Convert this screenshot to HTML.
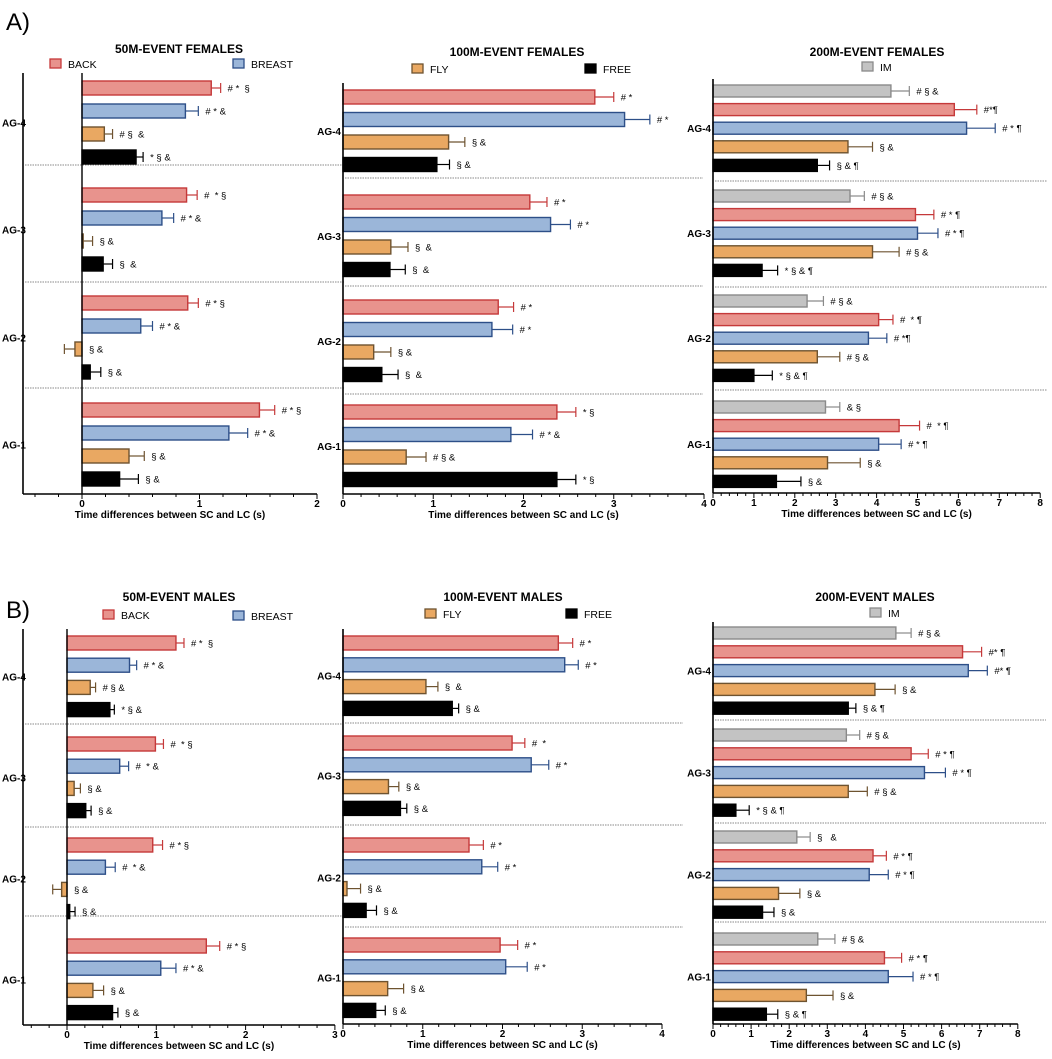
<!DOCTYPE html>
<html><head><meta charset="utf-8">
<style>
body{margin:0;background:#fff;}
svg{display:block;font-family:"Liberation Sans",Arial,sans-serif;}
</style></head>
<body>
<svg id="chart" width="1052" height="1059" viewBox="0 0 1052 1059" xmlns="http://www.w3.org/2000/svg">
<text x="6" y="30" font-size="24">A)</text>
<text x="6" y="618" font-size="24">B)</text>
</svg>
<script>
// ---- data (groups ordered AG-4, AG-3, AG-2, AG-1; series BACK, BREAST, FLY, FREE [, IM first for 200m]) ----
const groups = ["AG-4","AG-3","AG-2","AG-1"];
const a1Values = [[1.10,0.88,0.19,0.46],[0.89,0.68,0.01,0.18],[0.90,0.50,-0.06,0.07],[1.51,1.25,0.40,0.32]];
const a1Errors = [[1.18,0.99,0.26,0.52],[0.98,0.78,0.09,0.26],[0.99,0.60,-0.15,0.16],[1.64,1.41,0.53,0.48]];
const a1Notes = [["# *  §","# * &","# §  &","* § &"],["#  * §","# * &","§ &","§  &"],["# * §","# * &","§ &","§ &"],["# * §","# * &","§ &","§ &"]];
const a2Values = [[2.79,3.12,1.17,1.04],[2.07,2.30,0.53,0.52],[1.72,1.65,0.34,0.43],[2.37,1.86,0.70,2.37]];
const a2Errors = [[3.00,3.40,1.35,1.18],[2.26,2.52,0.72,0.69],[1.89,1.88,0.53,0.61],[2.58,2.10,0.92,2.58]];
const a2Notes = [["# *","# *","§ &","§ &"],["# *","# *","§  &","§  &"],["# *","# *","§ &","§  &"],["* §","# * &","# § &","* §"]];
const a3Values = [[4.35,5.90,6.20,3.30,2.55],[3.35,4.95,5.00,3.90,1.20],[2.30,4.05,3.80,2.55,1.00],[2.75,4.55,4.05,2.80,1.55]];
const a3Errors = [[4.80,6.45,6.90,3.90,2.85],[3.70,5.40,5.50,4.55,1.58],[2.70,4.40,4.25,3.10,1.45],[3.10,5.05,4.60,3.60,2.15]];
const a3Notes = [["# § &","#*¶","# * ¶","§ &","§ & ¶"],["# § &","# * ¶","# * ¶","# § &","* § & ¶"],["# § &","#  * ¶","# *¶","# § &","* § & ¶"],["& §","#  * ¶","# * ¶","§ &","§ &"]];
const b1Values = [[1.22,0.70,0.26,0.48],[0.99,0.59,0.08,0.21],[0.96,0.43,-0.06,0.03],[1.56,1.05,0.29,0.51]];
const b1Errors = [[1.31,0.78,0.32,0.53],[1.08,0.69,0.15,0.27],[1.07,0.54,-0.16,0.09],[1.71,1.22,0.41,0.57]];
const b1Notes = [["# *  §","# * &","# § &","* § &"],["#  * §","#  * &","§ &","§ &"],["# * §","#  * &","§ &","§ &"],["# * §","# * &","§ &","§ &"]];
const b2Values = [[2.70,2.78,1.04,1.37],[2.12,2.36,0.57,0.72],[1.58,1.74,0.05,0.29],[1.97,2.04,0.56,0.41]];
const b2Errors = [[2.88,2.95,1.19,1.45],[2.28,2.58,0.70,0.80],[1.76,1.94,0.22,0.42],[2.19,2.31,0.76,0.53]];
const b2Notes = [["# *","# *","§  &","§ &"],["#  *","# *","§ &","§ &"],["# *","# *","§ &","§ &"],["# *","# *","§ &","§ &"]];
const b3Values = [[4.80,6.55,6.70,4.25,3.55],[3.50,5.20,5.55,3.55,0.60],[2.20,4.20,4.10,1.72,1.30],[2.75,4.50,4.60,2.45,1.40]];
const b3Errors = [[5.20,7.05,7.20,4.78,3.75],[3.85,5.65,6.10,4.05,0.95],[2.55,4.55,4.60,2.28,1.60],[3.20,4.95,5.25,3.15,1.70]];
const b3Notes = [["# § &","#* ¶","#* ¶","§ &","§ & ¶"],["# § &","# * ¶","# * ¶","# § &","* § & ¶"],["§   &","# * ¶","# * ¶","§ &","§ &"],["# § &","# * ¶","# * ¶","§ &","§ & ¶"]];
const ticks50F = [0,1,2];
const ticks100 = [0,1,2,3,4];
const ticks200 = [0,1,2,3,4,5,6,7,8];
const ticks50M = [0,1,2,3];

const NS="http://www.w3.org/2000/svg";
const svg=document.getElementById('chart');
const STY={BACK:{f:"#e8938d",s:"#c5393a"},BREAST:{f:"#9bb6d9",s:"#2d4f88"},FLY:{f:"#e9a862",s:"#6e5330"},FREE:{f:"#000",s:"#000"},IM:{f:"#c3c3c3",s:"#8a8a8a"}};
function mk(tag,attrs,parent){const e=document.createElementNS(NS,tag);for(const k in attrs)e.setAttribute(k,attrs[k]);(parent||svg).appendChild(e);return e;}

function panel(p){
  const g=mk('g',{});
  
  
  const X=v=>p.x0+v*p.sc;
  const t=mk('text',{x:p.tx,y:p.ty,'font-size':12,'font-weight':'bold','text-anchor':'middle'},g);t.textContent=p.title;
  
  
  p.legend.forEach(l=>{
    const r=mk('rect',{x:l.x,y:l.y-5,width:11,height:9,fill:STY[l.k].f,stroke:STY[l.k].s,'stroke-width':1.3},g);
    
    
    const lt=mk('text',{x:l.x+18,y:l.y+4,'font-size':10.5},g);lt.textContent=l.k;
    
    
  });
  p.div.forEach(y=>{const d=mk('line',{x1:p.left+2,x2:p.divR,y1:y,y2:y,stroke:'#888','stroke-width':1,'stroke-dasharray':'1.5,1'},g);
    
    });
  const series=p.series;
  p.vals.forEach((row,gi)=>{
    row.forEach((v,si)=>{
      const k=series[si], cy=p.first[gi]+si*p.step, h=p.bh;
      const xa=Math.min(X(0),X(v)), w=Math.abs(X(v)-X(0));
      const b=mk('rect',{x:xa,y:cy-h/2,width:Math.max(w,0.8),height:h,fill:STY[k].f,stroke:STY[k].s,'stroke-width':1.4},g);
      
      
      const e=p.errs[gi][si], ex=X(e), vx=X(v);
      const el=mk('line',{x1:vx,x2:ex,y1:cy,y2:cy,stroke:STY[k].s,'stroke-width':1.2},g);
      
      
      const ec=mk('line',{x1:ex,x2:ex,y1:cy-5,y2:cy+5,stroke:STY[k].s,'stroke-width':1.2},g);
      
      
      const nx=Math.max(ex,vx,X(0))+7;
      const nt=mk('text',{x:nx,y:cy+3.5,'font-size':9.5},g);nt.textContent=p.notes[gi][si];
      nt.setAttribute('style','white-space:pre');
      
      
    });
    const gl=mk('text',{x:p.labX,y:p.first[gi]+(row.length-1)*p.step/2+4,'font-size':10,'font-weight':'bold','text-anchor':p.labAnchor||'end'},g);
    gl.textContent=groups[gi];
    
    
  });
  const ya=mk('line',{x1:p.left,x2:p.left,y1:p.top,y2:p.bot,stroke:'#000','stroke-width':1.6},g);
  
  
  if(p.left!==X(0)){const z=mk('line',{x1:X(0),x2:X(0),y1:p.top,y2:p.bot,stroke:'#000','stroke-width':1.4},g);
    
    }
  const tmax=p.ticks[p.ticks.length-1];
  const xa=mk('line',{x1:p.left,x2:X(tmax),y1:p.bot,y2:p.bot,stroke:'#000','stroke-width':1.6},g);
  
  
  for(let v=p.minorStart;v<=tmax+1e-6;v+=0.2){
    const major=Math.abs(v-Math.round(v))<1e-6;
    mk('line',{x1:X(v),x2:X(v),y1:p.bot,y2:p.bot+(major?5:3),stroke:'#000','stroke-width':1},g);
  }
  p.ticks.forEach(v=>{const tl=mk('text',{x:X(v),y:p.bot+13,'font-size':10,'font-weight':'bold','text-anchor':'middle'},g);tl.textContent=v;
    
    });
  const xt=mk('text',{x:(p.left+X(tmax))/2,y:p.bot+24,'font-size':10,'font-weight':'bold','text-anchor':'middle'},g);
  xt.textContent='Time differences between SC and LC (s)';
  
  
}
const S4=["BACK","BREAST","FLY","FREE"], S5=["IM","BACK","BREAST","FLY","FREE"];
panel({name:'panel-50m-females',title:'50M-EVENT FEMALES',tx:179,ty:53,legend:[{k:'BACK',x:50,y:64},{k:'BREAST',x:233,y:64}],
  x0:82,sc:117.5,left:23,top:73,bot:494,div:[165,282,388],divR:345,series:S4,vals:a1Values,errs:a1Errors,notes:a1Notes,
  first:[88,195,303,410],step:23,bh:14,labX:2,labAnchor:'start',ticks:ticks50F,minorStart:-0.4});
panel({name:'panel-100m-females',title:'100M-EVENT FEMALES',tx:517,ty:56,legend:[{k:'FLY',x:412,y:69},{k:'FREE',x:585,y:69}],
  x0:343,sc:90.25,left:343,top:83,bot:494,div:[178,286,394],divR:703,series:S4,vals:a2Values,errs:a2Errors,notes:a2Notes,
  first:[97,202,307,412],step:22.5,bh:14,labX:341,ticks:ticks100,minorStart:0});
panel({name:'panel-200m-females',title:'200M-EVENT FEMALES',tx:877,ty:56,legend:[{k:'IM',x:862,y:67}],
  x0:713,sc:40.9,left:713,top:79,bot:493,div:[181,287,390],divR:1047,series:S5,vals:a3Values,errs:a3Errors,notes:a3Notes,
  first:[91,196,301,407],step:18.6,bh:12,labX:711,ticks:ticks200,minorStart:0});
panel({name:'panel-50m-males',title:'50M-EVENT MALES',tx:179,ty:601,legend:[{k:'BACK',x:103,y:615},{k:'BREAST',x:233,y:616}],
  x0:67,sc:89.3,left:23,top:629,bot:1025,div:[724,827,916],divR:343,series:S4,vals:b1Values,errs:b1Errors,notes:b1Notes,
  first:[643,744,845,946],step:22.2,bh:14,labX:2,labAnchor:'start',ticks:ticks50M,minorStart:-0.4});
panel({name:'panel-100m-males',title:'100M-EVENT MALES',tx:503,ty:601,legend:[{k:'FLY',x:425,y:614},{k:'FREE',x:566,y:614}],
  x0:343,sc:79.75,left:343,top:629,bot:1024,div:[723,825,927],divR:683,series:S4,vals:b2Values,errs:b2Errors,notes:b2Notes,
  first:[643,743,845,945],step:21.8,bh:14,labX:341,ticks:ticks100,minorStart:0});
panel({name:'panel-200m-males',title:'200M-EVENT MALES',tx:875,ty:601,legend:[{k:'IM',x:870,y:613}],
  x0:713,sc:38.1,left:713,top:622,bot:1024,div:[720,823,922],divR:1046,series:S5,vals:b3Values,errs:b3Errors,notes:b3Notes,
  first:[633,735,837,939],step:18.8,bh:12,labX:711,ticks:ticks200,minorStart:0});
</script>
</body></html>
